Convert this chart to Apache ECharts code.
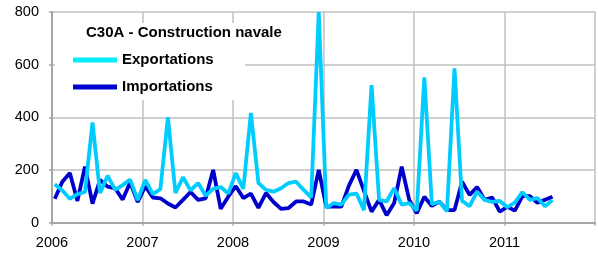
<!DOCTYPE html>
<html>
<head>
<meta charset="utf-8">
<script src="https://cdn.jsdelivr.net/npm/echarts@6/dist/echarts.min.js"></script>
<style>
  html, body { margin: 0; padding: 0; background: #fff; }
  #chart { width: 598px; height: 258px; }
</style>
</head>
<body>
<div id="chart"></div>
<script>
// monthly values, Jan 2006 -> Jul 2011
var startYear = 2006;
var exportations = [
  145, 122, 90, 108, 116, 380, 112, 178, 124, 142, 163, 85,
  162, 108, 127, 400, 112, 172, 122, 150, 102, 128, 135, 110,
  188, 128, 416, 150, 124, 117, 130, 150, 155, 124, 95, 800,
  55, 74, 68, 106, 110, 47, 522, 86, 80, 130, 68, 74,
  45, 552, 70, 79, 42, 586, 82, 62, 117, 86, 78, 82,
  58, 76, 115, 86, 93, 62, 85
];
var importations = [
  90, 155, 188, 82, 212, 72, 162, 136, 130, 87, 152, 78,
  138, 95, 92, 72, 57, 86, 116, 86, 92, 200, 52, 98,
  138, 93, 110, 56, 112, 78, 52, 55, 80, 80, 68, 200,
  60, 60, 60, 140, 200, 120, 41, 86, 28, 74, 212, 86,
  35, 98, 63, 79, 47, 47, 155, 105, 135, 86, 95, 41,
  60, 45, 100, 100, 75, 86, 98
];
var yTicks = [0, 200, 400, 600, 800];

var font = "'Liberation Sans', Arial, sans-serif";

// points sit a little after the start of each month, like the source chart
function toPairs(vals) {
  var out = [];
  for (var i = 0; i < vals.length; i++) {
    out.push([startYear + (i + 0.37) / 12, vals[i]]);
  }
  return out;
}

var chart = echarts.init(document.getElementById('chart'), null, { renderer: 'canvas' });

var option = {
  animation: false,
  backgroundColor: '#fff',
  grid: { left: 52, right: 1, top: 12, bottom: 35.5 },
  title: {
    text: 'C30A - Construction navale',
    left: 86,
    top: 25,
    padding: 0,
    textStyle: { fontFamily: font, fontSize: 15, fontWeight: 'bold', color: '#000' }
  },
  legend: {
    orient: 'vertical',
    left: 73,
    top: 52,
    padding: 0,
    itemGap: 11,
    itemWidth: 44,
    itemHeight: 5,
    icon: 'rect',
    data: [
      { name: 'Exportations', itemStyle: { color: '#00EEFF' } },
      { name: 'Importations', itemStyle: { color: '#0000CC' } }
    ],
    textStyle: { fontFamily: font, fontSize: 15, fontWeight: 'bold', color: '#000', lineHeight: 16 }
  },
  graphic: [{
    type: 'rect',
    z: 1,
    shape: { x: 55, y: 23, width: 190, height: 77 },
    style: { fill: '#fff' }
  }],
  xAxis: {
    type: 'value',
    min: 2006,
    max: 2012,
    interval: 1,
    axisLine: { show: true, lineStyle: { color: '#a6a6a6', width: 2 } },
    axisTick: { show: true, inside: false, length: 3, lineStyle: { color: '#a6a6a6', width: 1.5 } },
    splitLine: { show: true, lineStyle: { color: '#c0c0c0', width: 1.5 } },
    axisLabel: {
      margin: 12.5,
      fontFamily: font,
      fontSize: 14.5,
      color: '#000',
      formatter: function (v) { return v >= 2012 ? '' : String(v); }
    }
  },
  yAxis: {
    type: 'value',
    min: yTicks[0],
    max: yTicks[yTicks.length - 1],
    interval: 200,
    axisLine: { show: true, lineStyle: { color: '#a6a6a6', width: 2 } },
    axisTick: { show: true, length: 3, lineStyle: { color: '#a6a6a6', width: 1.5 } },
    splitLine: { show: true, lineStyle: { color: '#c0c0c0', width: 1.5 } },
    axisLabel: { margin: 13, fontFamily: font, fontSize: 14.5, color: '#000' }
  },
  series: [
    {
      name: 'Importations',
      type: 'line',
      data: toPairs(importations),
      showSymbol: false,
      symbol: 'none',
      clip: true,
      lineStyle: { color: '#0000CC', width: 3.8 },
      itemStyle: { color: '#0000CC' },
      z: 2
    },
    {
      name: 'Exportations',
      type: 'line',
      data: toPairs(exportations),
      showSymbol: false,
      symbol: 'none',
      clip: true,
      lineStyle: { color: '#00CCFF', width: 3.8 },
      itemStyle: { color: '#00CCFF' },
      z: 3
    }
  ]
};

chart.setOption(option);
</script>
</body>
</html>
